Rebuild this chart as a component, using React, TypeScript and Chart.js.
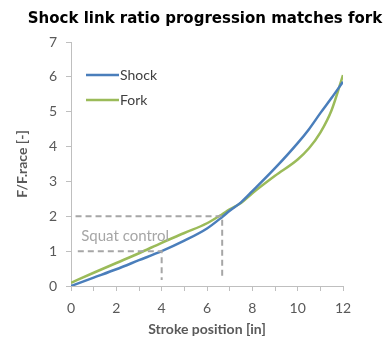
import React, { useEffect, useRef } from "react";
import { Chart, registerables } from "chart.js";

Chart.register(...registerables);

const titleText = "Shock link ratio progression matches fork";
const xAxisTitle = "Stroke position [in]";
const yAxisTitle = "F/F.race [-]";
const annotationText = "Squat control";

const shockLabel = "Shock";
const shockX = [0, 1, 2, 3, 4, 5, 6, 6.67, 7, 7.5, 8, 9, 10, 10.5, 11, 11.5, 12];
const shockY = [0, 0.24, 0.48, 0.74, 1.0, 1.3, 1.65, 1.98, 2.16, 2.4, 2.72, 3.38, 4.1, 4.5, 4.96, 5.4, 5.86];

const forkLabel = "Fork";
const forkX = [0, 1, 2, 3, 4, 5, 6, 6.67, 7, 7.5, 8, 9, 10, 10.5, 11, 11.5, 12];
const forkY = [0.09, 0.38, 0.66, 0.94, 1.24, 1.52, 1.8, 2.06, 2.2, 2.38, 2.66, 3.16, 3.63, 3.95, 4.4, 5.05, 6.05];

const squat1X = [0.3, 4, 4];
const squat1Y = [1, 1, 0.17];
const squat2X = [0.2, 6.67, 6.67];
const squat2Y = [2, 2, 0.2];

const annotationPos = { x: 0.45, y: 1.43 };

const shockColor = "#4A7EBB";
const forkColor = "#9BBB59";
const dashColor = "#A6A6A6";
const axisColor = "#BFBFBF";
const textColor = "#595959";

const toPoints = (xs: number[], ys: number[]) => xs.map((x, i) => ({ x, y: ys[i] }));

const overlayPlugin = {
  id: "overlay",
  afterDatasetsDraw(chart: any) {
    const ctx = chart.ctx;
    const xs = chart.scales.x;
    const ys = chart.scales.y;
    ctx.save();
    // title
    ctx.font = "bold 15px 'DejaVu Sans', sans-serif";
    ctx.fillStyle = "#000000";
    ctx.textAlign = "center";
    ctx.textBaseline = "middle";
    ctx.fillText(titleText, 205, 19);
    // annotation
    ctx.font = "15px Lato, 'Liberation Sans', sans-serif";
    ctx.fillStyle = dashColor;
    ctx.textAlign = "left";
    ctx.textBaseline = "middle";
    ctx.fillText(annotationText, xs.getPixelForValue(annotationPos.x), ys.getPixelForValue(annotationPos.y));
    // legend
    const ca = chart.chartArea;
    const items = [
      { label: shockLabel, color: shockColor },
      { label: forkLabel, color: forkColor },
    ];
    ctx.font = "14px Lato, 'Liberation Sans', sans-serif";
    items.forEach((it, i) => {
      const y = ca.top + 33 + i * 25;
      const x0 = ca.left + 15;
      ctx.strokeStyle = it.color;
      ctx.lineWidth = 2.5;
      ctx.beginPath();
      ctx.moveTo(x0, y);
      ctx.lineTo(x0 + 33, y);
      ctx.stroke();
      ctx.fillStyle = "#404040";
      ctx.fillText(it.label, x0 + 34, y);
    });
    ctx.restore();
  },
};

export default function App() {
  const ref = useRef<HTMLCanvasElement | null>(null);
  useEffect(() => {
    if (!ref.current) return;
    const chart = new Chart(ref.current, {
      type: "line",
      data: {
        datasets: [
          {
            label: "squat1",
            data: toPoints(squat1X, squat1Y),
            borderColor: dashColor,
            borderWidth: 2,
            borderDash: [6, 4],
            pointRadius: 0,
            tension: 0,
          },
          {
            label: "squat2",
            data: toPoints(squat2X, squat2Y),
            borderColor: dashColor,
            borderWidth: 2,
            borderDash: [6, 4],
            pointRadius: 0,
            tension: 0,
          },
          {
            label: shockLabel,
            data: toPoints(shockX, shockY),
            borderColor: shockColor,
            borderWidth: 2.5,
            pointRadius: 0,
            cubicInterpolationMode: "monotone",
          },
          {
            label: forkLabel,
            data: toPoints(forkX, forkY),
            borderColor: forkColor,
            borderWidth: 2.5,
            pointRadius: 0,
            cubicInterpolationMode: "monotone",
          },
        ],
      },
      options: {
        animation: false,
        responsive: false,
        maintainAspectRatio: false,
        layout: { padding: { left: 0, right: 45, top: 42, bottom: 0 } },
        plugins: {
          legend: { display: false },
          tooltip: { enabled: false },
          title: { display: false },
        },
        scales: {
          x: {
            type: "linear",
            min: 0,
            max: 12,
            ticks: {
              stepSize: 1,
              color: textColor,
              font: { family: "Lato, 'Liberation Sans', sans-serif", size: 14 },
              padding: 9,
              maxRotation: 0,
              autoSkip: false,
              callback: (v: any) => (Number(v) % 2 === 0 ? String(v) : ""),
            },
            grid: { drawOnChartArea: false, color: axisColor, tickLength: 5 },
            border: { color: axisColor },
            title: {
              display: true,
              text: xAxisTitle,
              color: textColor,
              font: { family: "Lato, 'Liberation Sans', sans-serif", size: 14, weight: "bold" },
              padding: { top: 4, bottom: 10 },
            },
            afterFit: (s: any) => {
              s.height = 62;
            },
          },
          y: {
            min: 0,
            max: 7,
            ticks: {
              stepSize: 1,
              color: textColor,
              font: { family: "Lato, 'Liberation Sans', sans-serif", size: 14 },
              padding: 9,
            },
            grid: { drawOnChartArea: false, color: axisColor, tickLength: 5 },
            border: { color: axisColor },
            title: {
              display: true,
              text: yAxisTitle,
              color: textColor,
              font: { family: "Lato, 'Liberation Sans', sans-serif", size: 14, weight: "bold" },
              padding: { top: 14, bottom: 4 },
            },
            afterFit: (s: any) => {
              s.width = 71;
            },
          },
        },
      } as any,
      plugins: [overlayPlugin],
    });
    return () => chart.destroy();
  }, []);
  return (
    <div style={{ position: "fixed", left: 0, top: 0, width: 388, height: 348, background: "#fff" }}>
      <canvas ref={ref} width={388} height={348} style={{ width: 388, height: 348 }} />
    </div>
  );
}
